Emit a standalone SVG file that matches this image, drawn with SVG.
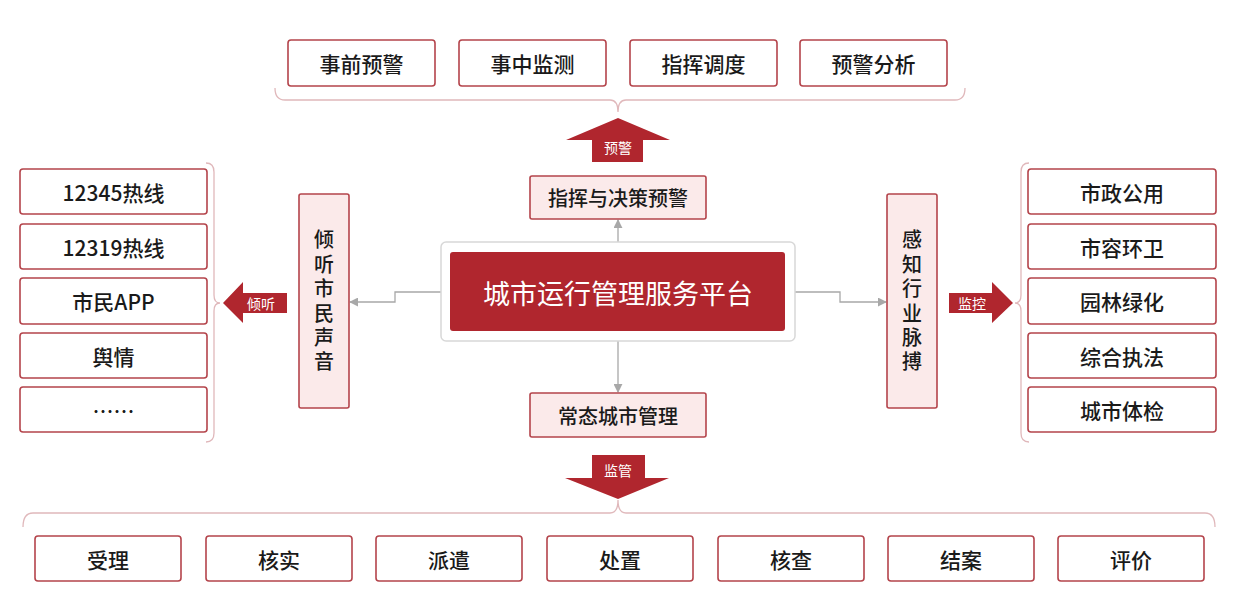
<svg xmlns="http://www.w3.org/2000/svg" width="1239" height="610" viewBox="0 0 1239 610">
<defs>
<style>
.box{fill:#ffffff;stroke:#b4444b;stroke-width:1.6}
.pink{fill:#fbeaea;stroke:#b4444b;stroke-width:1.6}
.t{font-family:"Noto Sans CJK SC","Liberation Sans",sans-serif;font-size:21px;font-weight:500;fill:#1a1a1a;text-anchor:middle;dominant-baseline:central}
.v{font-family:"Noto Sans CJK SC","Liberation Sans",sans-serif;font-size:20px;font-weight:500;fill:#1a1a1a;text-anchor:middle;writing-mode:vertical-rl;letter-spacing:4.4px}
.w{font-family:"Noto Sans CJK SC","Liberation Sans",sans-serif;font-size:14px;fill:#ffffff;text-anchor:middle;dominant-baseline:central}
.red{fill:#b0262e}
.br{fill:none;stroke:#e0b8bb;stroke-width:1.3}
.con{fill:none;stroke:#a8a8a8;stroke-width:1.3}
</style>
<marker id="ah" viewBox="0 0 10 10" refX="9" refY="5" markerWidth="9" markerHeight="9" markerUnits="userSpaceOnUse" orient="auto">
<path d="M0,0 L10,5 L0,10 z" fill="#a8a8a8"/>
</marker>
</defs>
<rect width="1239" height="610" fill="#ffffff"/>

<g id="connectors">
<path class="con" d="M618,242 V220" marker-end="url(#ah)"/>
<path class="con" d="M618,341 V392" marker-end="url(#ah)"/>
<path class="con" d="M441,292 H395 V302 H350" marker-end="url(#ah)"/>
<path class="con" d="M795,292 H840 V302 H886" marker-end="url(#ah)"/>
<path class="br" d="M275,88 Q275,100 285,100 H610 Q618,100 618,112 Q618,100 626,100 H955 Q965,100 965,88"/>
<path class="br" d="M23,527 Q23,513 33,513 H610 Q618,513 618,500 Q618,513 626,513 H1205 Q1215,513 1215,527"/>
<path class="br" d="M206,163 Q214,163 214,172 V295 Q214,303 220,303 Q214,303 214,311 V433 Q214,442 206,442"/>
<path class="br" d="M1029,163 Q1021,163 1021,172 V295 Q1021,303 1015,303 Q1021,303 1021,311 V433 Q1021,442 1029,442"/>
<path class="red" d="M618,118 L670,140 H643 V162 H592 V140 H566 Z"/>
<text class="w" x="618" y="147">预警</text>
<path class="red" d="M618,499 L669,478 H645 V455 H592 V478 H565 Z"/>
<text class="w" x="618" y="470">监管</text>
<path class="red" d="M223,303 L243,282 V293 H287 V313 H243 V323 Z"/>
<text class="w" x="261" y="303">倾听</text>
<path class="red" d="M1013,303 L992,282 V293 H949 V313 H992 V323 Z"/>
<text class="w" x="972" y="303">监控</text>
</g>

<g id="top-boxes">
<g id="n-shiqian"><rect class="box" x="288" y="40" width="147" height="46" rx="3"/><text class="t" x="361.5" y="63">事前预警</text></g>
<g id="n-shizhong"><rect class="box" x="459" y="40" width="147" height="46" rx="3"/><text class="t" x="532.5" y="63">事中监测</text></g>
<g id="n-zhihui"><rect class="box" x="630" y="40" width="147" height="46" rx="3"/><text class="t" x="703.5" y="63">指挥调度</text></g>
<g id="n-yujing"><rect class="box" x="800" y="40" width="147" height="46" rx="3"/><text class="t" x="873.5" y="63">预警分析</text></g>
</g>

<g id="n-command"><rect class="pink" x="530" y="176" width="176" height="43" rx="2"/><text class="t" x="618" y="197.5" style="font-size:20px">指挥与决策预警</text></g>
<g id="n-normal"><rect class="pink" x="530" y="393" width="176" height="44" rx="2"/><text class="t" x="618" y="415" style="font-size:20px">常态城市管理</text></g>

<g id="n-center">
<rect x="441" y="242" width="354" height="99" rx="5" fill="#ffffff" stroke="#d8d8d8" stroke-width="1.5"/>
<rect x="450" y="252" width="335" height="79" rx="3" fill="#b0262e"/>
<text x="618" y="292" style="font-family:'Noto Sans CJK SC','Liberation Sans',sans-serif;font-size:27px;fill:#ffffff;text-anchor:middle;dominant-baseline:central">城市运行管理服务平台</text>
</g>

<g id="n-listen">
<rect class="pink" x="299" y="194" width="50" height="214" rx="2"/>
<text class="v" x="324" y="303">倾听市民声音</text>
</g>
<g id="n-sense">
<rect class="pink" x="887" y="194" width="50" height="214" rx="2"/>
<text class="v" x="912" y="303">感知行业脉搏</text>
</g>

<g id="left-list">
<g id="n-12345"><rect class="box" x="20" y="169" width="187" height="45" rx="3"/><text class="t" x="113.5" y="191.5">12345热线</text></g>
<g id="n-12319"><rect class="box" x="20" y="224" width="187" height="45" rx="3"/><text class="t" x="113.5" y="246.5">12319热线</text></g>
<g id="n-app"><rect class="box" x="20" y="278" width="187" height="46" rx="3"/><text class="t" x="113.5" y="301">市民APP</text></g>
<g id="n-yuqing"><rect class="box" x="20" y="333" width="187" height="45" rx="3"/><text class="t" x="113.5" y="355.5">舆情</text></g>
<g id="n-more"><rect class="box" x="20" y="387" width="187" height="45" rx="3"/><text class="t" x="113.5" y="409.5">……</text></g>
</g>

<g id="right-list">
<g id="n-shizheng"><rect class="box" x="1028" y="169" width="188" height="45" rx="3"/><text class="t" x="1122" y="191.5">市政公用</text></g>
<g id="n-shirong"><rect class="box" x="1028" y="224" width="188" height="45" rx="3"/><text class="t" x="1122" y="246.5">市容环卫</text></g>
<g id="n-yuanlin"><rect class="box" x="1028" y="278" width="188" height="46" rx="3"/><text class="t" x="1122" y="301">园林绿化</text></g>
<g id="n-zonghe"><rect class="box" x="1028" y="333" width="188" height="45" rx="3"/><text class="t" x="1122" y="355.5">综合执法</text></g>
<g id="n-tijian"><rect class="box" x="1028" y="387" width="188" height="45" rx="3"/><text class="t" x="1122" y="409.5">城市体检</text></g>
</g>

<g id="bottom-boxes">
<g id="n-shouli"><rect class="box" x="35" y="536" width="146" height="45" rx="3"/><text class="t" x="108" y="558.5">受理</text></g>
<g id="n-heshi"><rect class="box" x="206" y="536" width="146" height="45" rx="3"/><text class="t" x="279" y="558.5">核实</text></g>
<g id="n-paiqian"><rect class="box" x="376" y="536" width="146" height="45" rx="3"/><text class="t" x="449" y="558.5">派遣</text></g>
<g id="n-chuzhi"><rect class="box" x="547" y="536" width="146" height="45" rx="3"/><text class="t" x="620" y="558.5">处置</text></g>
<g id="n-hecha"><rect class="box" x="718" y="536" width="146" height="45" rx="3"/><text class="t" x="791" y="558.5">核查</text></g>
<g id="n-jiean"><rect class="box" x="888" y="536" width="146" height="45" rx="3"/><text class="t" x="961" y="558.5">结案</text></g>
<g id="n-pingjia"><rect class="box" x="1058" y="536" width="146" height="45" rx="3"/><text class="t" x="1131" y="558.5">评价</text></g>
</g>
</svg>
